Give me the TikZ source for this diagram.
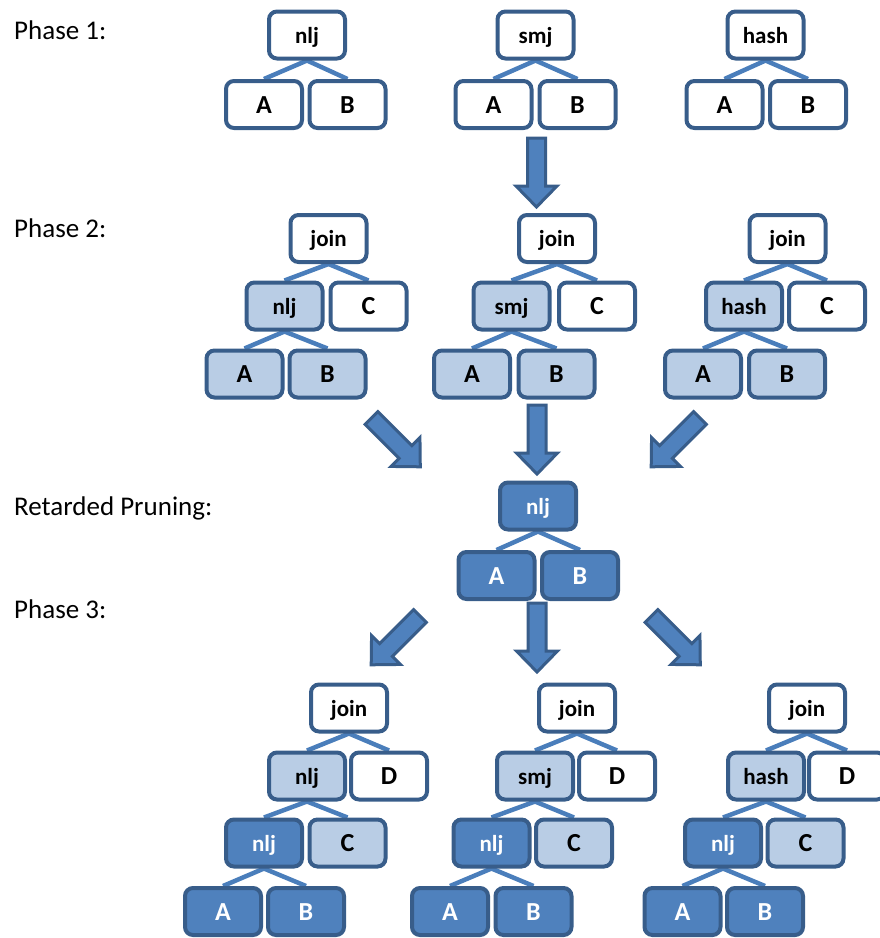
\documentclass[tikz,border=0pt]{standalone}
\usepackage{fontspec}
\setmainfont{Carlito}
\usetikzlibrary{backgrounds}

\definecolor{boxline}{HTML}{385D8A}
\definecolor{darkfill}{HTML}{4F81BD}
\definecolor{lightfill}{HTML}{B9CDE5}
\definecolor{edgeblue}{HTML}{4A7EBB}

\tikzset{
  opbox/.style={draw=boxline, line width=4pt, rounded corners=8pt,
    minimum width=76pt, minimum height=47pt, inner sep=0pt,
    text height=16pt, text depth=0pt,
    font=\fontsize{23}{27}\selectfont\bfseries},
  rel/.style={font=\fontsize{26}{30}\selectfont\bfseries, text height=17pt},
  plainbox/.style={opbox, fill=white, text=black},
  lightbox/.style={opbox, fill=lightfill, text=black},
  darkbox/.style={opbox, fill=darkfill, text=white},
  treelink/.style={draw=edgeblue, line width=4.5pt},
  phaselabel/.style={anchor=base west, inner sep=0pt,
    font=\fontsize{27}{31}\selectfont},
  bigarrow/.pic={
    \draw[draw=boxline, fill=darkfill, line width=3pt, line join=miter]
      (0,9) -- (48,9) -- (48,20.5) -- (69,0) -- (48,-20.5) -- (48,-9)
      -- (0,-9) -- cycle;
  }
}

\begin{document}
\begin{tikzpicture}[x=1pt, y=1pt]
\useasboundingbox (0,0) rectangle (880,-938);

% stage labels
\node[phaselabel] (lab1) at (14,-39)  {Phase 1:};
\node[phaselabel] (lab2) at (14,-237) {Phase 2:};
\node[phaselabel] (labr) at (14,-515) {Retarded Pruning:};
\node[phaselabel] (lab3) at (14,-618) {Phase 3:};

% ---------- Phase 1 ----------
\node[plainbox] (a1) at (307,-35)    {nlj};
\node[plainbox,rel] (a1l) at (264,-104.5) {A};
\node[plainbox,rel] (a1r) at (347.5,-104.5) {B};

\node[plainbox] (b1) at (535.5,-35)  {smj};
\node[plainbox,rel] (b1l) at (493.5,-104.5) {A};
\node[plainbox,rel] (b1r) at (577.5,-104.5) {B};

\node[plainbox] (c1) at (765.5,-35)  {hash};
\node[plainbox,rel] (c1l) at (724.5,-104.5) {A};
\node[plainbox,rel] (c1r) at (808,-104.5) {B};

% ---------- Phase 2 ----------
\node[plainbox] (a2) at (328.5,-238.5) {join};
\node[lightbox] (a2j) at (284.5,-306) {nlj};
\node[plainbox,rel] (a2c) at (368.5,-306) {C};
\node[lightbox,rel] (a2l) at (244.5,-374) {A};
\node[lightbox,rel] (a2r) at (327.5,-374) {B};

\node[plainbox] (b2) at (557,-238.5) {join};
\node[lightbox] (b2j) at (511.5,-306) {smj};
\node[plainbox,rel] (b2c) at (597,-306) {C};
\node[lightbox,rel] (b2l) at (472,-374) {A};
\node[lightbox,rel] (b2r) at (556.5,-374) {B};

\node[plainbox] (c2) at (787.5,-238.5) {join};
\node[lightbox] (c2j) at (744,-306) {hash};
\node[plainbox,rel] (c2c) at (827,-306) {C};
\node[lightbox,rel] (c2l) at (703,-374) {A};
\node[lightbox,rel] (c2r) at (787,-374) {B};

% ---------- Retarded pruning ----------
\node[darkbox] (r) at (538,-506) {nlj};
\node[darkbox,rel] (rl) at (496.5,-575.5) {A};
\node[darkbox,rel] (rr) at (580,-575.5) {B};

% ---------- Phase 3 ----------
\node[plainbox] (a3) at (349,-708) {join};
\node[lightbox] (a3j) at (307,-776) {nlj};
\node[plainbox,rel] (a3d) at (389,-776) {D};
\node[darkbox] (a3k) at (264,-843) {nlj};
\node[lightbox,rel] (a3c) at (347.5,-843) {C};
\node[darkbox,rel] (a3l) at (223,-911.5) {A};
\node[darkbox,rel] (a3r) at (306,-911.5) {B};

\node[plainbox] (b3) at (577,-708) {join};
\node[lightbox] (b3j) at (535,-776) {smj};
\node[plainbox,rel] (b3d) at (617,-776) {D};
\node[darkbox] (b3k) at (491.5,-843) {nlj};
\node[lightbox,rel] (b3c) at (574,-843) {C};
\node[darkbox,rel] (b3l) at (450,-911.5) {A};
\node[darkbox,rel] (b3r) at (533.5,-911.5) {B};

\node[plainbox] (c3) at (807,-708) {join};
\node[lightbox] (c3j) at (766,-776) {hash};
\node[plainbox,rel] (c3d) at (847,-776) {D};
\node[darkbox] (c3k) at (723,-843) {nlj};
\node[lightbox,rel] (c3c) at (805.5,-843) {C};
\node[darkbox,rel] (c3l) at (682.5,-911.5) {A};
\node[darkbox,rel] (c3r) at (765,-911.5) {B};

% tree links, drawn beneath the boxes
\begin{scope}[on background layer]
  \foreach \p/\l/\r in {a1/a1l/a1r, b1/b1l/b1r, c1/c1l/c1r,
      a2/a2j/a2c, a2j/a2l/a2r, b2/b2j/b2c, b2j/b2l/b2r,
      c2/c2j/c2c, c2j/c2l/c2r, r/rl/rr,
      a3/a3j/a3d, a3j/a3k/a3c, a3k/a3l/a3r,
      b3/b3j/b3d, b3j/b3k/b3c, b3k/b3l/b3r,
      c3/c3j/c3d, c3j/c3k/c3c, c3k/c3l/c3r}{
    \draw[treelink] (\l.north) -- (\p.south) -- (\r.north);
  }
\end{scope}

% block arrows between stages
\pic[rotate=-90]  at (536.5,-138) {bigarrow};
\pic[rotate=-45]  at (371.5,-418) {bigarrow};
\pic[rotate=-90]  at (537,-405)   {bigarrow};
\pic[rotate=-135] at (700,-418)   {bigarrow};
\pic[rotate=-135] at (420,-616)   {bigarrow};
\pic[rotate=-90]  at (537,-603)   {bigarrow};
\pic[rotate=-45]  at (651.5,-616) {bigarrow};
\end{tikzpicture}
\end{document}
